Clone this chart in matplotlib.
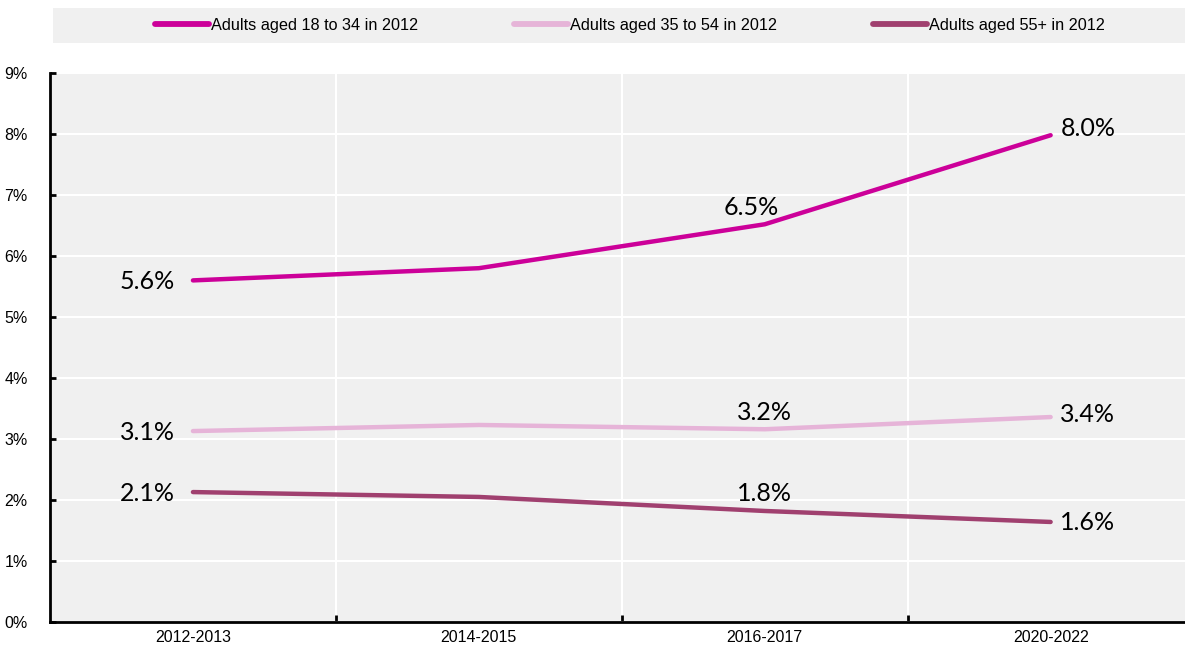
import matplotlib.pyplot as plt
from matplotlib import font_manager
from matplotlib.patches import Rectangle
from matplotlib.ticker import FuncFormatter

periods = ["2012-2013", "2014-2015", "2016-2017", "2020-2022"]
young = [5.6, 5.8, 6.52, 7.98]
middle = [3.13, 3.23, 3.16, 3.36]
older = [2.13, 2.05, 1.82, 1.64]
series_names = ["Adults aged 18 to 34 in 2012",
                "Adults aged 35 to 54 in 2012",
                "Adults aged 55+ in 2012"]
colors = ["#CC0099", "#E6B4D8", "#A0406F"]

# which points get a value label, and where it goes
label_spots = {0: "left", 2: "above", 3: "right"}
# small nudges (points) so labels clear the lines
end_nudge = [5, 1.5, -0.5]
above_nudge = [-10, 0, 0]

installed = {f.name for f in font_manager.fontManager.ttflist}
if "Liberation Sans Narrow" in installed:
    narrow = ["Liberation Sans Narrow", "DejaVu Sans"]
    small = 13
else:
    narrow = ["Liberation Sans", "DejaVu Sans"]
    small = 11.7
label_font = ["Lato", "DejaVu Sans"]

fig = plt.figure(figsize=(11.85, 6.47), dpi=100)
ax = fig.add_axes([50 / 1185, 1 - 622 / 647, 1 - 50 / 1185, (622 - 73) / 647])
ax.set_facecolor("#F0F0F0")

x = list(range(len(periods)))
for k, (vals, name, c) in enumerate(zip([young, middle, older], series_names, colors)):
    ax.plot(x, vals, color=c, lw=3.2, solid_capstyle="round", label=name, zorder=3)
    for i, where in label_spots.items():
        txt = f"{vals[i]:.1f}%"
        if where == "left":
            ax.annotate(txt, (x[i], vals[i]), xytext=(-13, -1), textcoords="offset points",
                        ha="right", va="center", fontsize=18, family=label_font)
        elif where == "above":
            ax.annotate(txt, (x[i], vals[i]), xytext=(above_nudge[k], 4),
                        textcoords="offset points",
                        ha="center", va="bottom", fontsize=18, family=label_font)
        else:
            ax.annotate(txt, (x[i], vals[i]), xytext=(7, end_nudge[k]),
                        textcoords="offset points",
                        ha="left", va="center", fontsize=18, family=label_font)

ax.set_xlim(-0.5, 3.47)
ax.set_ylim(0, 9)
ax.set_yticks(range(0, 10))
ax.yaxis.set_major_formatter(FuncFormatter(lambda v, p: f"{v:.0f}%"))
ax.set_xticks(x)
ax.set_xticklabels(periods)
ax.set_xticks([0.5, 1.5, 2.5], minor=True)

ax.grid(axis="y", color="white", lw=1.5)
ax.grid(axis="x", which="minor", color="white", lw=1.5)
ax.set_axisbelow(True)

for s in ["top", "right"]:
    ax.spines[s].set_visible(False)
for s in ["left", "bottom"]:
    ax.spines[s].set_linewidth(2)
    ax.spines[s].set_color("black")

ax.tick_params(axis="x", which="major", length=0, pad=6)
ax.tick_params(axis="x", which="minor", direction="in", length=5, width=2)
ax.tick_params(axis="y", direction="in", length=4, width=2, pad=16)
for lab in ax.get_xticklabels() + ax.get_yticklabels():
    lab.set_family(narrow)
    lab.set_fontsize(11.5)

# legend strip across the top
fig.patches.append(Rectangle((53 / 1185, 1 - 43 / 647), 1 - 53 / 1185, 35 / 647,
                             transform=fig.transFigure, facecolor="#F0F0F0",
                             edgecolor="none", zorder=0))
handles, labels = ax.get_legend_handles_labels()
leg = fig.legend(handles, labels, ncol=3, frameon=False,
                 loc="center", bbox_to_anchor=(630 / 1185, 1 - 25.5 / 647),
                 handlelength=3.3, handletextpad=0.15, columnspacing=5.9,
                 prop={"family": narrow, "size": small})
for h in leg.legend_handles:
    h.set_linewidth(4.2)

fig.savefig("out.png", dpi=100)
